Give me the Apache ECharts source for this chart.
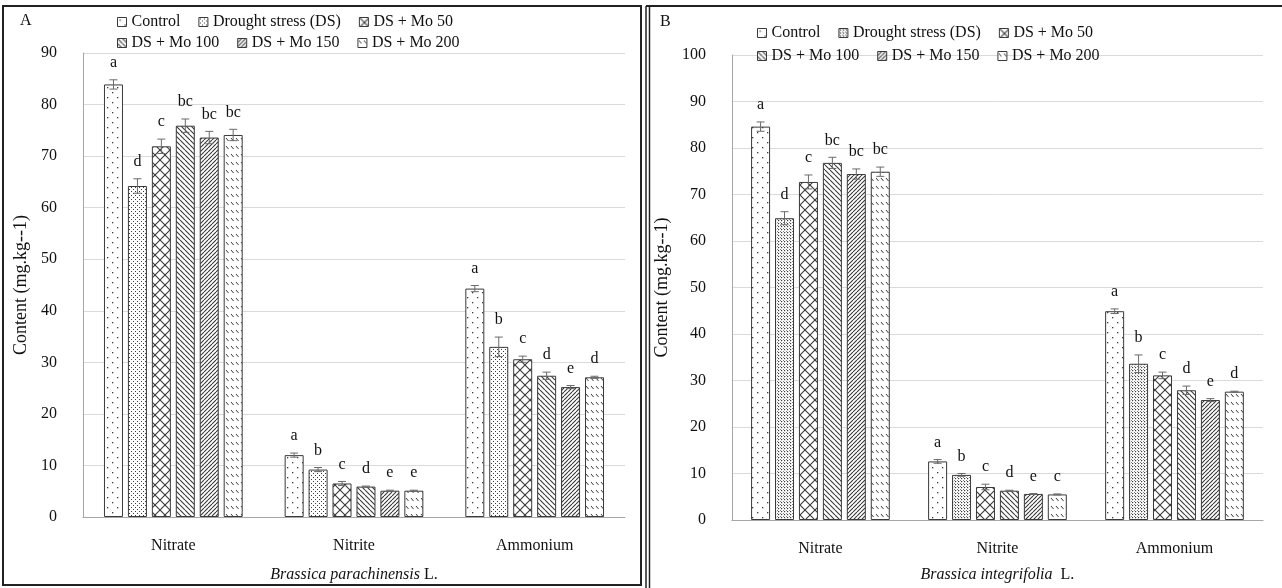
<!DOCTYPE html>
<html>
<head>
<meta charset="utf-8">
<script src="https://cdn.jsdelivr.net/npm/echarts@6/dist/echarts.min.js"></script>
<style>
    body { margin: 0; background: #fff; }
    #wrap { position: relative; width: 1282px; height: 588px; overflow: hidden; }
    #chartA { position: absolute; left: 0; top: 0; width: 645px; height: 588px; }
    #chartB { position: absolute; left: 645px; top: 0; width: 637px; height: 588px; }
</style>
</head>
<body>
<div id="wrap">
    <div id="chartA"></div>
    <div id="chartB"></div>
</div>
<script>
var categories = ['Nitrate', 'Nitrite', 'Ammonium'];
var treatments = ['Control', 'Drought stress (DS)', 'DS + Mo 50', 'DS + Mo 100', 'DS + Mo 150', 'DS + Mo 200'];
var ticksA = [0, 10, 20, 30, 40, 50, 60, 70, 80, 90];
var ticksB = [0, 10, 20, 30, 40, 50, 60, 70, 80, 90, 100];

// panel A - Brassica parachinensis
var controlA = [83.9, 12.0, 44.3];
var droughtA = [64.2, 9.2, 33.0];
var mo50A = [71.9, 6.5, 30.6];
var mo100A = [75.9, 5.9, 27.4];
var mo150A = [73.6, 5.1, 25.2];
var mo200A = [74.1, 5.1, 27.1];
var controlErrA = [0.9, 0.4, 0.6];
var droughtErrA = [1.4, 0.4, 1.9];
var mo50ErrA = [1.4, 0.4, 0.6];
var mo100ErrA = [1.3, 0.1, 0.7];
var mo150ErrA = [1.2, 0.1, 0.3];
var mo200ErrA = [1.1, 0.1, 0.2];
var controlLetA = ['a', 'a', 'a'];
var droughtLetA = ['d', 'b', 'b'];
var mo50LetA = ['c', 'c', 'c'];
var mo100LetA = ['bc', 'd', 'd'];
var mo150LetA = ['bc', 'e', 'e'];
var mo200LetA = ['bc', 'e', 'd'];

// panel B - Brassica integrifolia
var controlB = [84.6, 12.6, 44.9];
var droughtB = [64.9, 9.7, 33.6];
var mo50B = [72.7, 7.1, 31.1];
var mo100B = [76.8, 6.3, 27.9];
var mo150B = [74.4, 5.6, 25.8];
var mo200B = [74.9, 5.5, 27.6];
var controlErrB = [1.0, 0.4, 0.5];
var droughtErrB = [1.4, 0.3, 1.9];
var mo50ErrB = [1.5, 0.6, 0.7];
var mo100ErrB = [1.2, 0.1, 0.9];
var mo150ErrB = [1.1, 0.1, 0.3];
var mo200ErrB = [1.0, 0.1, 0.1];
var controlLetB = ['a', 'a', 'a'];
var droughtLetB = ['d', 'b', 'b'];
var mo50LetB = ['c', 'c', 'c'];
var mo100LetB = ['bc', 'd', 'd'];
var mo150LetB = ['bc', 'e', 'e'];
var mo200LetB = ['bc', 'c', 'd'];

var FONT = '"Liberation Serif", "DejaVu Serif", serif';
var INK = '#3a3a3a';
var BAR_W = 19;
var BAR_GAP = 0.26;

// small canvas tiles used as hatch fills
makeTile = (w, h, draw) => {
    var c = document.createElement('canvas');
    c.width = w;
    c.height = h;
    var ctx = c.getContext('2d');
    ctx.fillStyle = '#fff';
    ctx.fillRect(0, 0, w, h);
    ctx.fillStyle = INK;
    ctx.strokeStyle = INK;
    draw(ctx, w);
    return { image: c, repeat: 'repeat' };
}
diag = (ctx, s, back, w) => {
    ctx.lineWidth = w;
    ctx.beginPath();
    for (var k = -s; k <= s; k += s) {
        if (back) { ctx.moveTo(k, 0); ctx.lineTo(k + s, s); }
        else { ctx.moveTo(k + s, 0); ctx.lineTo(k, s); }
    }
    ctx.stroke();
}

var patterns = {
    control: makeTile(10, 10, (ctx) => { ctx.fillRect(2, 2, 1.3, 1.3); ctx.fillRect(7, 7, 1.3, 1.3); }),
    droughtA: makeTile(4, 4, (ctx) => { ctx.fillRect(1, 1, 1, 1); ctx.fillRect(3, 3, 1, 1); }),
    droughtB: makeTile(3, 3, (ctx) => { ctx.fillRect(1, 1, 1.2, 1.2); ctx.fillRect(0, 0, 0.8, 0.8); }),
    mo50: makeTile(10, 10, (ctx, s) => { diag(ctx, s, true, 1.1); diag(ctx, s, false, 1.1); }),
    mo100: makeTile(5, 5, (ctx, s) => { diag(ctx, s, true, 1.1); }),
    mo150: makeTile(4, 4, (ctx, s) => { diag(ctx, s, false, 1.1); }),
    mo200: makeTile(5, 8, (ctx) => {
        ctx.lineWidth = 1;
        ctx.beginPath();
        ctx.moveTo(1, 2); ctx.lineTo(3.5, 5);
        ctx.stroke();
    })
};

buildPanel = (el, cfg) => {
    var myChart = echarts.init(el);
    var series = [];
    cfg.values.forEach((vals, t) => {
        series.push({
            name: treatments[t],
            type: 'bar',
            barWidth: BAR_W,
            barGap: (BAR_GAP * 100) + '%',
            data: vals,
            itemStyle: { color: cfg.fills[t], borderColor: INK, borderWidth: 1 },
            emphasis: { disabled: true }
        });
    });

    var errData = [];
    var errLetters = [];
    cfg.values.forEach((vals, t) => {
        vals.forEach((v, c) => {
            errData.push([c, t, v, cfg.errors[t][c]]);
            errLetters.push(cfg.letters[t][c]);
        });
    });
    var pitch = BAR_W * (1 + BAR_GAP);
    series.push({
        type: 'custom',
        name: 'err',
        data: errData,
        z: 5,
        renderItem: function (params, api) {
            var c = api.value(0), t = api.value(1), v = api.value(2), e = api.value(3);
            var x = api.coord([c, v])[0] + (t - 2.5) * pitch;
            var yHi = api.coord([c, v + e])[1];
            var yLo = api.coord([c, v - e])[1];
            var st = { stroke: '#6a6a6a', lineWidth: 1 };
            return {
                type: 'group',
                children: [
                    { type: 'line', shape: { x1: x, y1: yHi, x2: x, y2: yLo }, style: st },
                    { type: 'line', shape: { x1: x - 4, y1: yHi, x2: x + 4, y2: yHi }, style: st },
                    { type: 'line', shape: { x1: x - 4, y1: yLo, x2: x + 4, y2: yLo }, style: st },
                    {
                        type: 'text',
                        style: {
                            text: errLetters[params.dataIndex], x: x, y: yHi - 9,
                            align: 'center', verticalAlign: 'bottom',
                            font: '16px ' + FONT, fill: '#111'
                        }
                    }
                ]
            };
        }
    });

    var legendText = { fontFamily: FONT, fontSize: 16, color: '#111', width: 140 };
    var legendBase = {
        orient: 'horizontal',
        icon: 'rect',
        itemWidth: 9,
        itemHeight: 9,
        itemGap: 18,
        itemStyle: { borderColor: INK, borderWidth: 1 },
        textStyle: legendText,
        selectedMode: false
    };

    option = null;
    option = {
        animation: false,
        textStyle: { fontFamily: FONT },
        legend: [
            Object.assign({}, legendBase, { left: cfg.legendLeft, top: cfg.legendTop, data: treatments.slice(0, 3) }),
            Object.assign({}, legendBase, { left: cfg.legendLeft, top: cfg.legendTop + cfg.legendRow, data: treatments.slice(3) })
        ],
        grid: cfg.grid,
        xAxis: {
            type: 'category',
            data: categories,
            axisTick: { show: false },
            axisLine: { lineStyle: { color: '#a6a6a6', width: 1 } },
            axisLabel: { fontFamily: FONT, fontSize: 16, color: '#111', margin: 21 },
            name: '{i|' + cfg.species + '}' + cfg.suffix,
            nameLocation: 'middle',
            nameGap: cfg.nameGap,
            nameTextStyle: {
                fontFamily: FONT, fontSize: 16, color: '#111',
                rich: { i: { fontFamily: FONT, fontSize: 16, fontStyle: 'italic', color: '#111' } }
            }
        },
        yAxis: {
            type: 'value',
            min: cfg.ticks[0],
            max: cfg.ticks[cfg.ticks.length - 1],
            interval: cfg.ticks[1] - cfg.ticks[0],
            axisLine: { show: true, lineStyle: { color: '#a6a6a6' } },
            axisTick: { show: false },
            splitLine: { lineStyle: { color: '#dadada' } },
            axisLabel: { fontFamily: FONT, fontSize: 16, color: '#111', margin: 26 },
            name: 'Content (mg.kg--1)',
            nameLocation: 'middle',
            nameRotate: 90,
            nameGap: 50,
            nameTextStyle: { fontFamily: FONT, fontSize: 18, color: '#111' }
        },
        graphic: cfg.graphic,
        series
    };
    if (option && typeof option === "object") {
        myChart.setOption(option, true);
    }
    return myChart;
}

var chartA = buildPanel(document.getElementById('chartA'), {
    values: [controlA, droughtA, mo50A, mo100A, mo150A, mo200A],
    errors: [controlErrA, droughtErrA, mo50ErrA, mo100ErrA, mo150ErrA, mo200ErrA],
    letters: [controlLetA, droughtLetA, mo50LetA, mo100LetA, mo150LetA, mo200LetA],
    fills: [patterns.control, patterns.droughtA, patterns.mo50, patterns.mo100, patterns.mo150, patterns.mo200],
    ticks: ticksA,
    species: 'Brassica parachinensis',
    suffix: ' L.',
    grid: { left: 83, top: 53, right: 20, bottom: 70 },
    nameGap: 50,
    legendLeft: 112,
    legendTop: 9,
    legendRow: 21,
    graphic: [
        { type: 'rect', shape: { x: 3, y: 6, width: 638, height: 579 }, style: { fill: 'none', stroke: '#222', lineWidth: 2 }, silent: true },
        { type: 'text', left: 20, top: 13, style: { text: 'A', font: '16px ' + FONT, fill: '#111' } }
    ]
});

var chartB = buildPanel(document.getElementById('chartB'), {
    values: [controlB, droughtB, mo50B, mo100B, mo150B, mo200B],
    errors: [controlErrB, droughtErrB, mo50ErrB, mo100ErrB, mo150ErrB, mo200ErrB],
    letters: [controlLetB, droughtLetB, mo50LetB, mo100LetB, mo150LetB, mo200LetB],
    fills: [patterns.control, patterns.droughtB, patterns.mo50, patterns.mo100, patterns.mo150, patterns.mo200],
    ticks: ticksB,
    species: 'Brassica integrifolia',
    suffix: '  L.',
    grid: { left: 81, top: 55, right: 19, bottom: 66 },
    nameGap: 47,
    legendLeft: 107,
    legendTop: 20,
    legendRow: 23,
    graphic: [
        { type: 'line', shape: { x1: 1, y1: 6, x2: 1, y2: 588 }, style: { stroke: '#222', lineWidth: 1.5 }, silent: true },
        { type: 'line', shape: { x1: 4.5, y1: 6, x2: 4.5, y2: 588 }, style: { stroke: '#222', lineWidth: 1.5 }, silent: true },
        { type: 'line', shape: { x1: 1, y1: 6, x2: 637, y2: 6 }, style: { stroke: '#222', lineWidth: 2 }, silent: true },
        { type: 'text', left: 15, top: 14, style: { text: 'B', font: '16px ' + FONT, fill: '#111' } }
    ]
});

window.addEventListener('resize', function () {
    chartA.resize();
    chartB.resize();
})
</script>
</body>
</html>
